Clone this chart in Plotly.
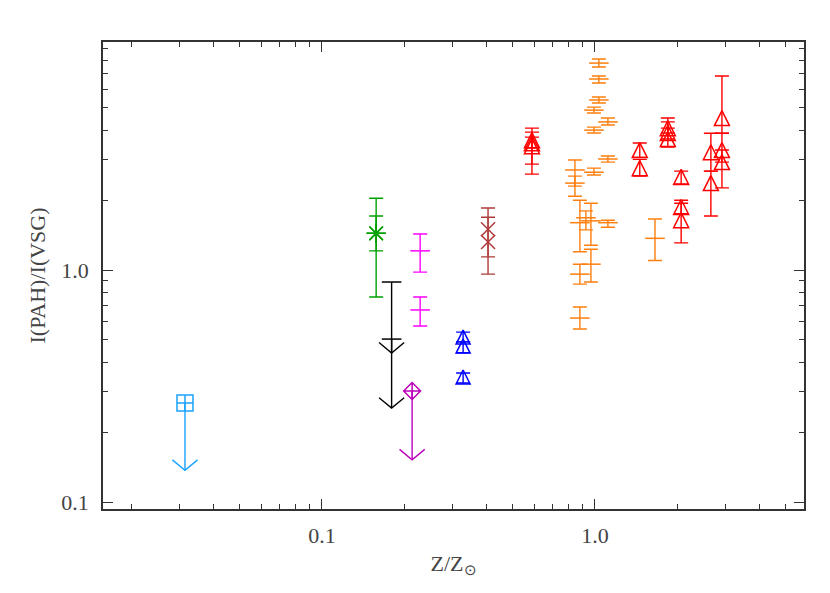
import numpy as np
import plotly.graph_objects as go

# orange sample (plain error bars)
x_orange = [1.034, 1.034, 1.034, 0.992, 0.992, 0.992, 1.116, 1.116, 1.116,
            0.845, 0.845, 0.881, 0.881, 0.881, 0.927, 0.967, 0.967, 1.66]
y_orange = [7.80, 6.66, 5.41, 4.89, 4.01, 2.64, 4.35, 3.01, 1.60,
            2.70, 2.37, 1.60, 0.96, 0.621, 1.68, 1.63, 1.06, 1.37]
hi_orange = [8.12, 6.86, 5.57, 5.04, 4.13, 2.75, 4.52, 3.10, 1.64,
             2.98, 2.54, 2.00, 1.06, 0.693, 1.80, 1.94, 1.23, 1.66]
lo_orange = [7.50, 6.40, 5.25, 4.75, 3.90, 2.57, 4.22, 2.92, 1.53,
             2.30, 2.08, 1.20, 0.87, 0.557, 1.49, 1.28, 0.888, 1.10]

# red triangles
x_red = [0.588, 0.588, 0.588, 1.46, 1.46, 1.85, 1.85, 1.85,
         2.07, 2.07, 2.07, 2.66, 2.66, 2.92, 2.92, 2.92]
y_red = [3.63, 3.52, 3.42, 3.29, 2.75, 4.09, 3.90, 3.67,
         2.52, 1.87, 1.64, 3.22, 2.37, 4.52, 3.29, 2.92]
hi_red = [4.09, 3.74, 3.93, 3.53, 3.00, 4.52, 4.35, 4.09,
          2.67, 2.00, 1.94, 3.89, 2.67, 6.86, 3.89, 3.29]
lo_red = [3.36, 2.86, 2.59, 3.06, 2.54, 3.90, 3.67, 3.39,
          2.35, 1.75, 1.31, 2.67, 1.71, 3.89, 2.92, 2.26]

# blue triangles
x_blue = [0.329, 0.329, 0.329]
y_blue = [0.514, 0.470, 0.346]
hi_blue = [0.54, 0.49, 0.36]
lo_blue = [0.49, 0.44, 0.326]

# green asterisks
x_green = [0.158, 0.158]
y_green = [1.44, 1.44]
hi_green = [1.71, 2.04]
lo_green = [1.21, 0.765]

# magenta
x_magenta = [0.229, 0.229]
y_magenta = [1.21, 0.673]
hi_magenta = [1.43, 0.765]
lo_magenta = [0.98, 0.574]

# brown crosses
x_brown = [0.406, 0.406]
y_brown = [1.50, 1.32]
hi_brown = [1.85, 1.69]
lo_brown = [1.14, 0.96]

# upper limits
x_lblue = [0.0315]
y_lblue = [0.267]
tip_lblue = [0.137]

x_black = [0.180, 0.180]
y_black = [0.888, 0.504]
tip_black = [0.439, 0.254]

x_purple = [0.214]
y_purple = [0.301]
tip_purple = [0.152]

fig = go.Figure()


def errpts(x, y, hi, lo, color, symbol, size, standoff=0, angle=0):
    y = np.array(y); hi = np.array(hi); lo = np.array(lo)
    fig.add_trace(go.Scatter(
        x=x, y=y, mode="markers",
        marker=dict(symbol=symbol, size=size, color=color, angle=angle,
                    standoff=standoff, line=dict(color=color, width=1.5)),
        error_y=dict(type="data", symmetric=False, array=hi - y, arrayminus=y - lo,
                     color=color, thickness=1.4, width=7),
        showlegend=False))


def limits(x, y, tip, color, symbol, size):
    # vertical line + open V arrowhead pointing down
    xs, ys = [], []
    for xi, yi, ti in zip(x, y, tip):
        xs += [xi, xi, None, xi * 10 ** (-0.046), xi, xi * 10 ** 0.046, None]
        ys += [yi, ti, None, ti * 10 ** 0.045, ti, ti * 10 ** 0.045, None]
    fig.add_trace(go.Scatter(x=xs, y=ys, mode="lines",
                             line=dict(color=color, width=1.4), showlegend=False))
    fig.add_trace(go.Scatter(x=x, y=y, mode="markers",
                             marker=dict(symbol=symbol, size=size, color=color,
                                         line=dict(color=color, width=1.5)),
                             showlegend=False))


orange = "#FF7F0E"
red = "#FF0000"
errpts(x_orange, y_orange, hi_orange, lo_orange, orange, "line-ew", 14)
errpts(x_red, y_red, hi_red, lo_red, red, "arrow-down-open", 15, standoff=7.5, angle=180)
errpts(x_blue, y_blue, hi_blue, lo_blue, "#0000FF", "arrow-down-open", 14, standoff=7, angle=180)
errpts(x_green, y_green, hi_green, lo_green, "#00A000", "asterisk-open", 16)
errpts(x_magenta, y_magenta, hi_magenta, lo_magenta, "#FF00FF", "line-ew", 14)
errpts(x_brown, y_brown, hi_brown, lo_brown, "#B03A3A", "x-thin-open", 14)

limits(x_lblue, y_lblue, tip_lblue, "#1AA3FF", "square-cross-open", 16)
limits(x_black, y_black, tip_black, "#000000", "line-ew", 14)
limits(x_purple, y_purple, tip_purple, "#BB00BB", "diamond-cross-open", 13)

font = dict(family="Liberation Serif", size=22, color="#444444")

fig.update_xaxes(
    type="log", range=[-1.802, 0.766],
    tickvals=[0.1, 1.0], ticktext=["0.1", "1.0"],
    ticks="inside", ticklen=10, tickwidth=1, tickcolor="#333",
    minor=dict(ticks="inside", ticklen=5, tickcolor="#333",
               tickvals=[0.02, 0.03, 0.04, 0.05, 0.06, 0.07, 0.08, 0.09,
                         0.2, 0.3, 0.4, 0.5, 0.6, 0.7, 0.8, 0.9, 2, 3, 4, 5]),
    showline=True, linecolor="#333", linewidth=1.5, mirror="ticks",
    showgrid=False, zeroline=False, tickfont=font, ticklabelstandoff=6,
    title=dict(text="Z/Z<sub>⊙</sub>", font=font, standoff=8))
fig.update_yaxes(
    type="log", range=[-1.030, 0.983],
    tickvals=[0.1, 1.0], ticktext=["0.1", "1.0"],
    ticks="inside", ticklen=10, tickwidth=1, tickcolor="#333",
    minor=dict(ticks="inside", ticklen=5, tickcolor="#333",
               tickvals=[0.2, 0.3, 0.4, 0.5, 0.6, 0.7, 0.8, 0.9,
                         2, 3, 4, 5, 6, 7, 8, 9]),
    showline=True, linecolor="#333", linewidth=1.5, mirror="ticks",
    showgrid=False, zeroline=False, tickfont=font, ticklabelstandoff=8,
    title=dict(text="I(PAH)/I(VSG)", font=font, standoff=10))

# page body adds an 8px margin, so the figure is a little smaller
fig.update_layout(width=822, height=585,
                  margin=dict(l=95, r=26, t=34, b=84),
                  plot_bgcolor="white", paper_bgcolor="white",
                  showlegend=False)

fig.write_html("out.html")
